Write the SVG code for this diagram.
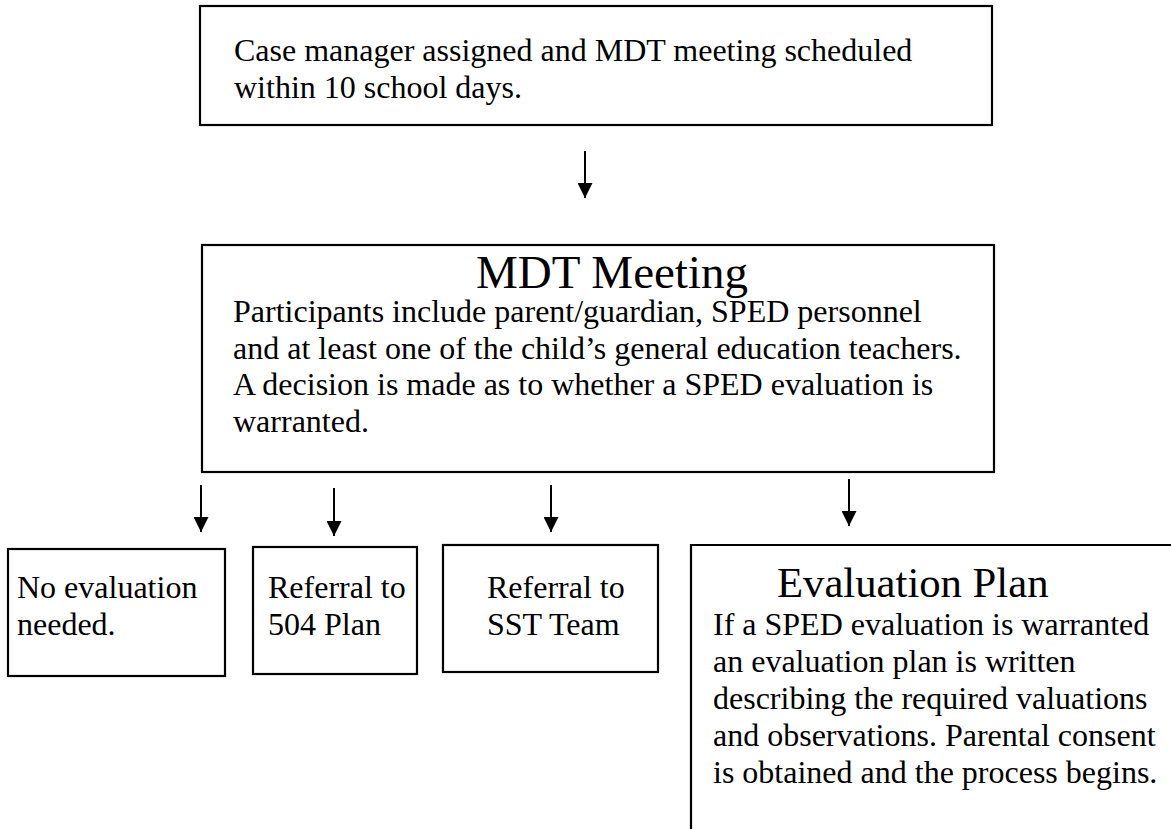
<svg xmlns="http://www.w3.org/2000/svg" width="1171" height="829" viewBox="0 0 1171 829">
<style>
.box{fill:#fff;stroke:#000;stroke-width:2.2}
.t{font-family:"Liberation Serif","Times New Roman",serif;font-size:32px;fill:#000}
.h{font-family:"Liberation Serif","Times New Roman",serif;fill:#000}
.c{stroke:#000;stroke-width:2;fill:none;marker-end:url(#ah)}
</style>
<defs>
<marker id="ah" viewBox="0 0 10 10" refX="10" refY="5" markerWidth="7.5" markerHeight="7.5" orient="auto" markerUnits="strokeWidth">
<path d="M0,0 L10,5 L0,10 z" fill="#000"/>
</marker>
</defs>
<rect width="1171" height="829" fill="#fff"/>
<g id="node-case">
<rect class="box" x="200" y="6" width="792" height="119"/>
<text class="t" x="234" y="61">Case manager assigned and MDT meeting scheduled</text>
<text class="t" x="234" y="98">within 10 school days.</text>
</g>
<g id="node-mdt">
<rect class="box" x="202" y="245" width="792" height="227"/>
<text class="h" x="612" y="288" font-size="47" text-anchor="middle">MDT Meeting</text>
<text class="t" x="233" y="322">Participants include parent/guardian, SPED personnel</text>
<text class="t" x="233" y="359">and at least one of the child’s general education teachers.</text>
<text class="t" x="233" y="395">A decision is made as to whether a SPED evaluation is</text>
<text class="t" x="233" y="432">warranted.</text>
</g>
<g id="node-noeval">
<rect class="box" x="8" y="549" width="217" height="127"/>
<text class="t" x="17" y="598">No evaluation</text>
<text class="t" x="17" y="635">needed.</text>
</g>
<g id="node-504">
<rect class="box" x="253" y="547" width="164" height="127"/>
<text class="t" x="268" y="598">Referral to</text>
<text class="t" x="268" y="635">504 Plan</text>
</g>
<g id="node-sst">
<rect class="box" x="443" y="545" width="215" height="127"/>
<text class="t" x="487" y="598">Referral to</text>
<text class="t" x="487" y="635">SST Team</text>
</g>
<g id="node-evalplan">
<path class="box" d="M691,829 V545 H1171" fill="none"/>
<text class="h" x="777" y="597" font-size="42.7">Evaluation Plan</text>
<text class="t" x="713" y="635">If a SPED evaluation is warranted</text>
<text class="t" x="713" y="672">an evaluation plan is written</text>
<text class="t" x="713" y="709">describing the required valuations</text>
<text class="t" x="713" y="746">and observations. Parental consent</text>
<text class="t" x="713" y="783">is obtained and the process begins.</text>
</g>
<g id="connectors">
<line class="c" x1="585" y1="151" x2="585" y2="198"/>
<line class="c" x1="201" y1="485" x2="201" y2="532"/>
<line class="c" x1="334" y1="488" x2="334" y2="536"/>
<line class="c" x1="551" y1="485" x2="551" y2="532"/>
<line class="c" x1="849" y1="479" x2="849" y2="526"/>
</g>
</svg>
